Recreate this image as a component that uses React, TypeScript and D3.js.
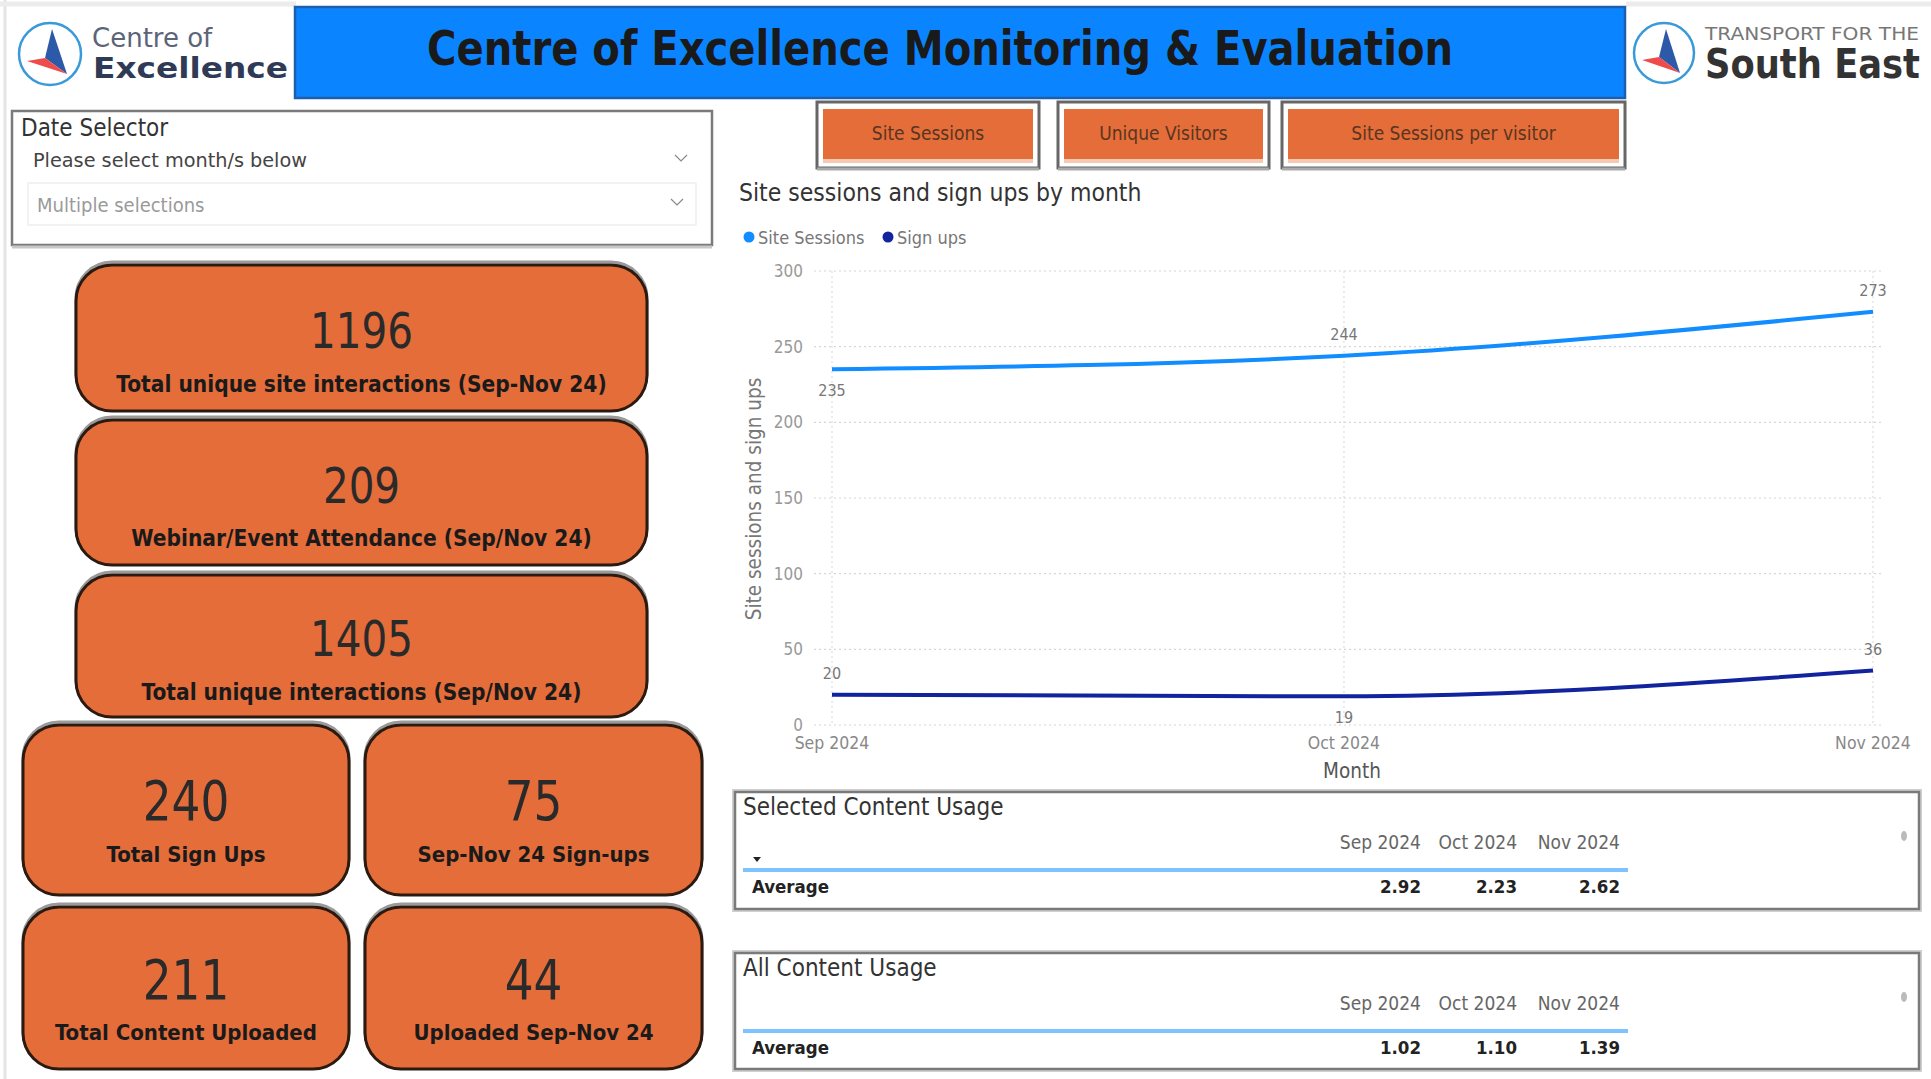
import React from 'react';
import * as d3 from 'd3';

// ---- data ----
const months = [new Date(2024, 8, 1), new Date(2024, 9, 1), new Date(2024, 10, 1)];
const monthLabels = ['Sep 2024', 'Oct 2024', 'Nov 2024'];
const siteSessions = [235, 244, 273];
const signUps = [20, 19, 36];
const sessionLabelSide = ['below', 'above', 'above'];
const signUpLabelSide = ['above', 'below', 'above'];

const kpiValues = ['1196', '209', '1405', '240', '75', '211', '44'];
const kpiLabels = [
  'Total unique site interactions (Sep-Nov 24)',
  'Webinar/Event Attendance (Sep/Nov 24)',
  'Total unique interactions  (Sep/Nov 24)',
  'Total Sign Ups',
  'Sep-Nov 24 Sign-ups',
  'Total Content Uploaded',
  'Uploaded Sep-Nov 24',
];

const buttonLabels = ['Site Sessions', 'Unique Visitors', 'Site Sessions per visitor'];

const selectedAvg = [2.92, 2.23, 2.62];
const allAvg = [1.02, 1.10, 1.39];

// ---- layout ----
const W = 1931;
const H = 1079;
const COND = '"DejaVu Sans Condensed", "DejaVu Sans", sans-serif';
const SANS = '"DejaVu Sans", "Open Sans", sans-serif';
const ORANGE = '#E56D3A';

const cardBoxes = [
  { x: 76, y: 265, w: 571, h: 146, vf: 50, lf: 22.5 },
  { x: 76, y: 420, w: 571, h: 145, vf: 50, lf: 22.5 },
  { x: 76, y: 575, w: 571, h: 142, vf: 50, lf: 22.5 },
  { x: 23, y: 725, w: 326, h: 170, vf: 56, lf: 22 },
  { x: 365, y: 725, w: 337, h: 170, vf: 56, lf: 22 },
  { x: 23, y: 907, w: 326, h: 162, vf: 56, lf: 22 },
  { x: 365, y: 907, w: 337, h: 162, vf: 56, lf: 22 },
];

const buttonBoxes = [
  { x: 817, w: 222 },
  { x: 1058, w: 211 },
  { x: 1282, w: 343 },
];

const x = d3.scaleTime().domain([months[0], months[2]]).range([832, 1873]);
const y = d3.scaleLinear().domain([0, 300]).range([725, 271]);

const line = d3.line<number>()
  .x((_, i) => x(months[i]))
  .y(d => y(d))
  .curve(d3.curveMonotoneX);

const SESS = '#118DFF';
const SIGN = '#12239E';

const tableCols = [1421, 1517, 1620];

function Table({ top, h, title, values, showArrow }: { top: number, h: number, title: string, values: number[], showArrow: boolean }) {
  const hy = top + 51;
  const ly = top + 78;
  const ay = top + 96;
  return (
    <g>
      <rect x={733} y={top - 2} width={1188} height={h + 4} fill="none" stroke="#d0d0d0" strokeWidth={2} />
      <rect x={735} y={top} width={1184} height={h} fill="#fff" stroke="#7a7a7a" strokeWidth={2.5} />
      <text x={743} y={top + 23} fontFamily={COND} fontSize={24} fill="#333">{title}</text>
      {monthLabels.map((m, i) => (
        <text key={m} x={tableCols[i]} y={hy} textAnchor="end" dominantBaseline="middle" fontFamily={COND} fontSize={19} fill="#666">{m}</text>
      ))}
      {showArrow && <path d={`M753,${hy + 14} l8,0 l-4,5 z`} fill="#222" />}
      <line x1={743} x2={1628} y1={ly} y2={ly} stroke="#7EC2FF" strokeWidth={4} />
      <text x={752} y={ay} dominantBaseline="middle" fontFamily={COND} fontWeight="bold" fontSize={18.5} fill="#222">Average</text>
      {values.map((v, i) => (
        <text key={i} x={tableCols[i]} y={ay} textAnchor="end" dominantBaseline="middle" fontFamily={COND} fontWeight="bold" fontSize={18.5} fill="#222">{v.toFixed(2)}</text>
      ))}
      <ellipse cx={1904} cy={top + 44} rx={3} ry={5} fill="#bbb" />
    </g>
  );
}

const App: React.FC = () => {
  const yTicks = y.ticks(6);
  return (
    <svg width={W} height={H} style={{ position: 'absolute', left: 0, top: 0, background: '#fff' }}>
      <rect x={0} y={0} width={W} height={H} fill="#fff" />
      <line x1={5} x2={5} y1={0} y2={H} stroke="#e4e4e4" strokeWidth={3} />
      <line x1={0} x2={296} y1={4} y2={4} stroke="#ececec" strokeWidth={5} />
      <line x1={1626} x2={W} y1={4} y2={4} stroke="#ececec" strokeWidth={5} />

      {/* left logo */}
      <circle cx={50} cy={54} r={31} fill="none" stroke="#3a9ad9" strokeWidth={2.5} />
      <polygon points="52,29 67,74 45,58" fill="#2d5aa8" />
      <polygon points="27,61 45,58 67,74" fill="#ef4b4b" />
      <text x={92} y={47} fontFamily={SANS} fontSize={26} fill="#5c6479">Centre of</text>
      <text x={93} y={78} fontFamily={SANS} fontWeight="bold" fontSize={29} fill="#2f3a56" textLength={195} lengthAdjust="spacingAndGlyphs">Excellence</text>

      {/* banner */}
      <rect x={295} y={7} width={1330} height={91} fill="#0A84FF" stroke="#1d5fae" strokeWidth={2.5} />
      <text x={427} y={65} fontFamily={COND} fontWeight="bold" fontSize={48} fill="#1a1a1a" textLength={1026} lengthAdjust="spacingAndGlyphs">Centre of Excellence Monitoring &amp; Evaluation</text>

      {/* right logo */}
      <circle cx={1664} cy={53} r={30} fill="none" stroke="#3a9ad9" strokeWidth={2.5} />
      <polygon points="1666,29 1680,73 1659,57" fill="#2d5aa8" />
      <polygon points="1642,60 1659,57 1680,73" fill="#ef4b4b" />
      <text x={1705} y={40} fontFamily={COND} fontSize={17} fill="#777" textLength={214} lengthAdjust="spacingAndGlyphs">TRANSPORT FOR THE</text>
      <text x={1705} y={78} fontFamily={COND} fontWeight="bold" fontSize={40} fill="#333" textLength={215} lengthAdjust="spacingAndGlyphs">South East</text>

      {/* date selector */}
      <rect x={12} y={111} width={700} height={134} fill="#fff" stroke="#7a7a7a" strokeWidth={2.5} />
      <line x1={12} x2={712} y1={247} y2={247} stroke="#c8c8c8" strokeWidth={3} />
      <text x={21} y={136} fontFamily={COND} fontSize={24} fill="#333">Date Selector</text>
      <text x={33} y={167} fontFamily={COND} fontSize={20} fill="#444" textLength={274} lengthAdjust="spacingAndGlyphs">Please select month/s below</text>
      <path d="M675,155 l6,6 l6,-6" fill="none" stroke="#888" strokeWidth={1.2} />
      <rect x={28} y={183} width={668} height={42} fill="#fff" stroke="#eeeeee" strokeWidth={1.5} />
      <text x={37} y={212} fontFamily={COND} fontSize={20} fill="#9a9a9a">Multiple selections</text>
      <path d="M671,199 l6,6 l6,-6" fill="none" stroke="#888" strokeWidth={1.2} />

      {/* KPI cards */}
      {cardBoxes.map((b, i) => {
        const vy = b.y + b.h * 0.45;
        return (
          <g key={i}>
            <rect x={b.x} y={b.y - 3} width={b.w} height={b.h + 2} rx={36} fill="none" stroke="#9a9a9a" strokeWidth={3} />
            <rect x={b.x} y={b.y} width={b.w} height={b.h} rx={36} fill={ORANGE} stroke="#2b1a10" strokeWidth={3} />
            <text transform={`translate(${b.x + b.w / 2},${vy}) scale(0.9,1)`} textAnchor="middle" dominantBaseline="central" fontFamily={COND} fontSize={b.vf} fill="#2a2a2a">{kpiValues[i]}</text>
            <text x={b.x + b.w / 2} y={vy + 53} textAnchor="middle" dominantBaseline="central" fontFamily={COND} fontWeight="bold" fontSize={b.lf} fill="#1a1a1a">{kpiLabels[i]}</text>
          </g>
        );
      })}

      {/* buttons */}
      {buttonBoxes.map((b, i) => (
        <g key={i}>
          <rect x={b.x} y={102} width={b.w} height={66} fill="#fff" stroke="#666" strokeWidth={3} />
          <line x1={b.x} x2={b.x + b.w} y1={169} y2={169} stroke="#aaa" strokeWidth={3} />
          <rect x={b.x + 6} y={109} width={b.w - 12} height={54} fill="#F6C9B4" />
          <rect x={b.x + 6} y={109} width={b.w - 12} height={50} fill={ORANGE} />
          <text x={b.x + b.w / 2} y={133} textAnchor="middle" dominantBaseline="central" fontFamily={COND} fontSize={19} fill="#5a3520">{buttonLabels[i]}</text>
        </g>
      ))}

      {/* chart */}
      <text x={739} y={201} fontFamily={COND} fontSize={24.5} fill="#333">Site sessions and sign ups by month</text>
      <circle cx={749} cy={237} r={5.5} fill={SESS} />
      <text x={758} y={237} dominantBaseline="central" fontFamily={COND} fontSize={18} fill="#777">Site Sessions</text>
      <circle cx={888} cy={237} r={5.5} fill={SIGN} />
      <text x={897} y={237} dominantBaseline="central" fontFamily={COND} fontSize={18} fill="#777">Sign ups</text>

      {yTicks.map(t => (
        <g key={t}>
          <line x1={814} x2={1882} y1={y(t)} y2={y(t)} stroke="#d6d6d6" strokeWidth={1.2} strokeDasharray="2,3" />
          <text x={803} y={y(t)} textAnchor="end" dominantBaseline="central" fontFamily={COND} fontSize={17} fill="#999">{t}</text>
        </g>
      ))}
      {months.map((m, i) => (
        <g key={i}>
          <line x1={x(m)} x2={x(m)} y1={y(300)} y2={y(0)} stroke="#dedede" strokeWidth={1.2} strokeDasharray="2,3" />
          <text x={x(m)} y={743} textAnchor="middle" dominantBaseline="central" fontFamily={COND} fontSize={17.5} fill="#888">{monthLabels[i]}</text>
        </g>
      ))}
      <text x={1352} y={771} textAnchor="middle" dominantBaseline="central" fontFamily={COND} fontSize={20.5} fill="#555">Month</text>
      <text transform={`translate(754,499) rotate(-90)`} textAnchor="middle" dominantBaseline="central" fontFamily={COND} fontSize={20.5} fill="#777">Site sessions and sign ups</text>

      <path d={line(siteSessions) || ''} fill="none" stroke={SESS} strokeWidth={4} />
      <path d={line(signUps) || ''} fill="none" stroke={SIGN} strokeWidth={4} />
      {siteSessions.map((v, i) => (
        <text key={'s' + i} x={x(months[i])} y={y(v) + (sessionLabelSide[i] === 'above' ? -21 : 21)} textAnchor="middle" dominantBaseline="central" fontFamily={COND} fontSize={16} fill="#777">{v}</text>
      ))}
      {signUps.map((v, i) => (
        <text key={'u' + i} x={x(months[i])} y={y(v) + (signUpLabelSide[i] === 'above' ? -21 : 21)} textAnchor="middle" dominantBaseline="central" fontFamily={COND} fontSize={16} fill="#777">{v}</text>
      ))}

      {/* tables */}
      <Table top={792} h={117} title="Selected Content Usage" values={selectedAvg} showArrow={true} />
      <Table top={953} h={116} title="All Content Usage" values={allAvg} showArrow={false} />
    </svg>
  );
};

export default App;
